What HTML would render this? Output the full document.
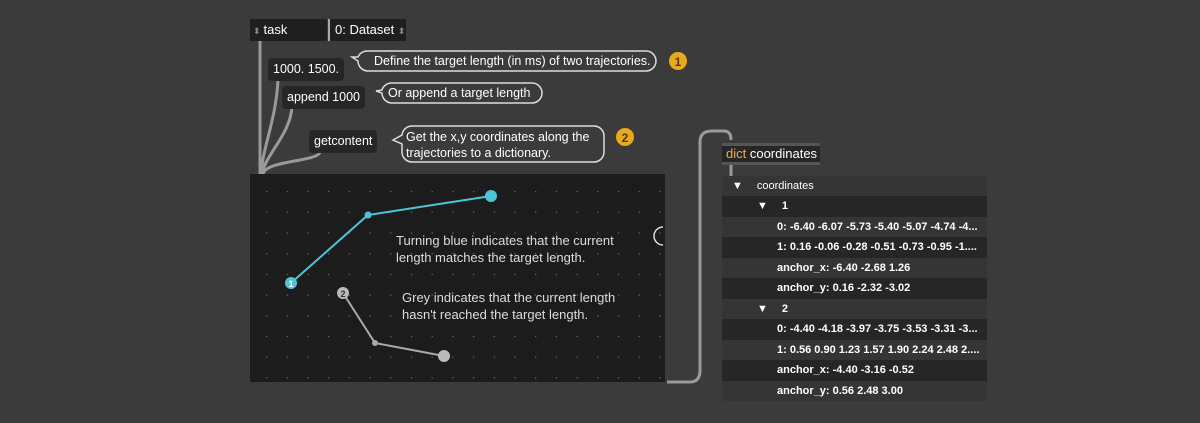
<!DOCTYPE html>
<html><head><style>
body{margin:0;width:1200px;height:423px;background:#3b3b3b;overflow:hidden;font-family:"Liberation Sans",sans-serif;position:relative}
.a{position:absolute}
.msg{position:absolute;background:#262626;color:#fff;font-size:12.5px;border-radius:4px;padding:0 5px;height:23px;line-height:23px}
.row{position:absolute;left:722px;width:265px;height:20.5px;line-height:20.5px;color:#fff;font-size:11px;font-weight:bold;box-sizing:border-box}
.d{background:#262626}.l{background:#353535}
.t{position:absolute;color:#fff;font-size:12.5px}
</style></head><body>
<svg class="a" style="left:0;top:0" width="1200" height="423">
<g fill="none" stroke="#9a9a9a" stroke-width="3">
<path d="M260 40 V174"/>
<path d="M278 80 C276 120 262 150 261 174"/>
<path d="M292 107 C290 135 265 155 262 174"/>
<path d="M320 152 C318 162 266 160 263 174"/>
<path d="M667 382 H690 Q700 382 700 370 V142 Q700 131 712 131 H724 Q731 131 731 140"/>
<path d="M731 165 V176"/>
</g>
<g fill="none" stroke="#ddd" stroke-width="1.5">
<path d="M368 51 H646 a10 10 0 0 1 10 10 v0 a10 10 0 0 1 -10 10 H368 a10 10 0 0 1 -10 -10 l-6 -4 6 0 a10 10 0 0 1 10 -6 z" />
<path d="M392 83 H532 a10 10 0 0 1 10 10 a10 10 0 0 1 -10 10 H392 a10 10 0 0 1 -10 -10 l-6 -2 6 -1 a10 10 0 0 1 10 -7 z"/>
<path d="M412 126 H594 a10 10 0 0 1 10 10 v16 a10 10 0 0 1 -10 10 H412 a10 10 0 0 1 -10 -10 v-8 l-9 -4 9 -5 a10 10 0 0 1 10 -9 z"/>
</g>
<circle cx="678" cy="61" r="9" fill="#e8a91a"/>
<circle cx="625" cy="137" r="9" fill="#e8a91a"/>
<text x="678" y="66" fill="#4a3a10" font-size="12" font-weight="bold" text-anchor="middle">1</text>
<text x="625" y="142" fill="#4a3a10" font-size="12" font-weight="bold" text-anchor="middle">2</text>
<rect x="250" y="174" width="415" height="208" fill="#1c1c1c"/>
<defs><pattern id="p" x="266" y="191" width="20.7" height="20.7" patternUnits="userSpaceOnUse"><rect width="1.2" height="1.2" fill="#707070"/></pattern></defs>
<rect x="250" y="174" width="415" height="208" fill="url(#p)"/>
<path d="M663 227 a9 9 0 0 0 0 18" fill="none" stroke="#ddd" stroke-width="1.5"/>
<polyline points="291,283 368,215 491,196" fill="none" stroke="#4fc3d6" stroke-width="2"/>
<circle cx="368" cy="215" r="3.5" fill="#4fc3d6"/><circle cx="491" cy="196" r="6" fill="#4fc3d6"/>
<circle cx="291" cy="283" r="6" fill="#4fc3d6"/><text x="291" y="287" font-size="9" font-weight="bold" fill="#fff" text-anchor="middle">1</text>
<polyline points="343,293 375,343 444,356" fill="none" stroke="#aaa" stroke-width="2"/>
<circle cx="375" cy="343" r="3" fill="#aaa"/><circle cx="444" cy="356" r="6" fill="#bbb"/>
<circle cx="343" cy="293" r="6" fill="#bbb"/><text x="343" y="297" font-size="9" font-weight="bold" fill="#333" text-anchor="middle">2</text>
<g fill="#ddd" font-size="13">
<text x="396" y="245">Turning blue indicates that the current</text>
<text x="396" y="262">length matches the target length.</text>
<text x="402" y="302">Grey indicates that the current length</text>
<text x="402" y="319">hasn't reached the target length.</text>
</g>
<rect x="722" y="143" width="98" height="22" fill="#262626"/>
<rect x="722" y="143" width="98" height="3" fill="#555"/><rect x="722" y="162" width="98" height="3" fill="#555"/>
</svg>
<div class="a" style="left:250px;top:19px;width:77px;height:22px;background:#1f1f1f;color:#fff;font-size:13px;line-height:22px"><span style="color:#888;font-size:9px;margin:0 3px">⬍</span>task</div>
<div class="a" style="left:328px;top:19px;width:78px;height:22px;background:#1f1f1f;color:#fff;font-size:13px;line-height:22px;padding-left:5px;box-sizing:border-box;border-left:2px solid #aaa">0: Dataset <span style="color:#888;font-size:9px">⬍</span></div>
<div class="msg" style="left:268px;top:58px">1000. 1500.</div>
<div class="msg" style="left:282px;top:86px">append 1000</div>
<div class="msg" style="left:309px;top:130px">getcontent</div>
<div class="t" style="left:374px;top:54px">Define the target length (in ms) of two trajectories.</div>
<div class="t" style="left:388px;top:86px">Or append a target length</div>
<div class="t" style="left:406px;top:129px;line-height:16px">Get the x,y coordinates along the<br>trajectories to a dictionary.</div>
<div class="a" style="left:726px;top:146px;color:#fff;font-size:13px"><span style="color:#f0b040">dict</span> coordinates</div>
<div class="row l" style="top:176px;font-weight:normal"><span style="margin:0 14px 0 10px">▼</span>coordinates</div>
<div class="row d" style="top:196px"><span style="margin:0 14px 0 35px">▼</span>1</div>
<div class="row l" style="top:216.5px;padding-left:55px">0: -6.40 -6.07 -5.73 -5.40 -5.07 -4.74 -4...</div>
<div class="row d" style="top:237px;padding-left:55px">1: 0.16 -0.06 -0.28 -0.51 -0.73 -0.95 -1....</div>
<div class="row l" style="top:257.5px;padding-left:55px">anchor_x: -6.40 -2.68 1.26</div>
<div class="row d" style="top:278px;padding-left:55px">anchor_y: 0.16 -2.32 -3.02</div>
<div class="row l" style="top:298.5px"><span style="margin:0 14px 0 35px">▼</span>2</div>
<div class="row d" style="top:319px;padding-left:55px">0: -4.40 -4.18 -3.97 -3.75 -3.53 -3.31 -3...</div>
<div class="row l" style="top:339.5px;padding-left:55px">1: 0.56 0.90 1.23 1.57 1.90 2.24 2.48 2....</div>
<div class="row d" style="top:360px;padding-left:55px">anchor_x: -4.40 -3.16 -0.52</div>
<div class="row l" style="top:380.5px;padding-left:55px">anchor_y: 0.56 2.48 3.00</div>
</body></html>
